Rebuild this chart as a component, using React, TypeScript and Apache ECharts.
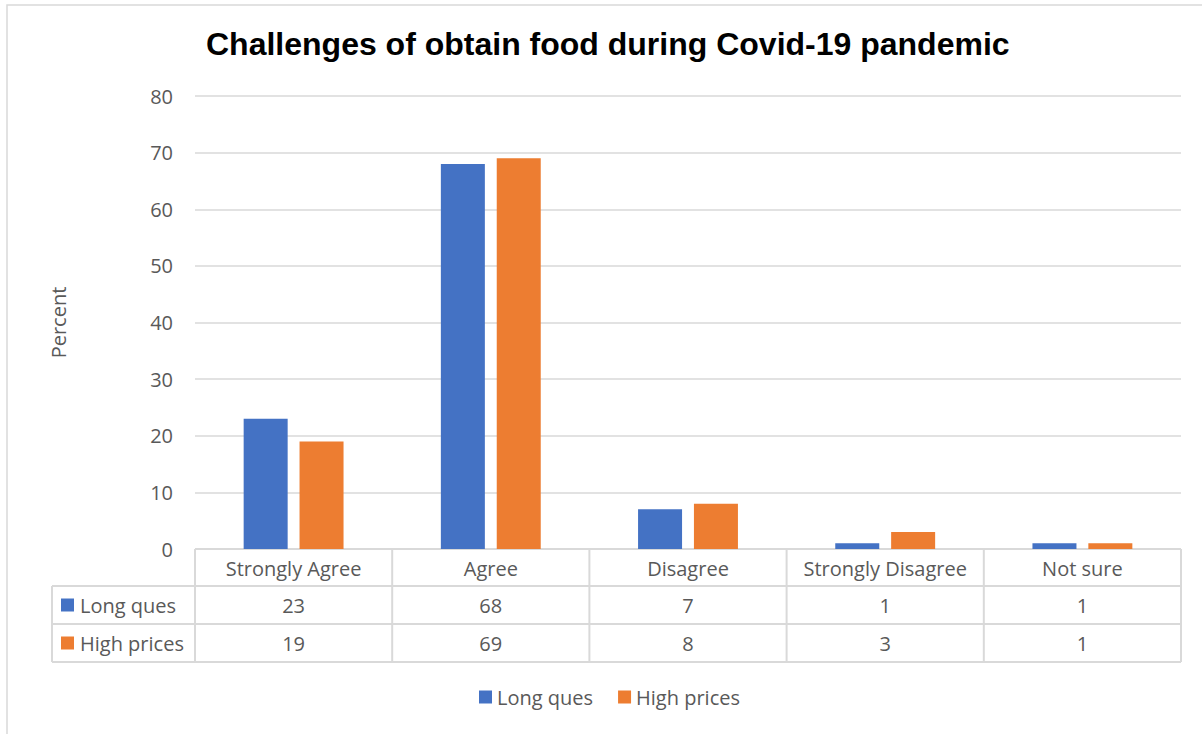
import React, { useEffect, useRef } from "react";
import * as echarts from "echarts";

const categories = ["Strongly Agree", "Agree", "Disagree", "Strongly Disagree", "Not sure"];
const seriesNames = ["Long ques", "High prices"];
const longQues = [23, 68, 7, 1, 1];
const highPrices = [19, 69, 8, 3, 1];
const colors = ["#4472C4", "#ED7D31"];
const titleText = "Challenges of obtain food during Covid-19 pandemic";
const yAxisName = "Percent";

export default function App() {
  const ref = useRef<HTMLDivElement>(null);
  useEffect(() => {
    if (!ref.current) return;
    const chart = echarts.init(ref.current, null, { renderer: "svg" });
    const font = "'Open Sans', sans-serif";
    const fs = 20;
    const textColor = "#595959";
    const lineColor = "#d9d9d9";
    const gl = 195, gr = 1181, gt = 96, gb = 549;
    const colW = (gr - gl) / categories.length;
    const rowYs = [549, 586, 624, 662];
    const rowLeft = 52;
    const graphics: any[] = [];
    graphics.push({ type: "rect", shape: { x: 7, y: 5, width: 1210, height: 760 }, style: { fill: "none", stroke: lineColor, lineWidth: 1.5 }, silent: true });
    graphics.push({ type: "line", shape: { x1: gl, y1: rowYs[0], x2: gr, y2: rowYs[0] }, style: { stroke: lineColor, lineWidth: 2 } });
    for (let r = 1; r < rowYs.length; r++) {
      graphics.push({ type: "line", shape: { x1: rowLeft, y1: rowYs[r], x2: gr, y2: rowYs[r] }, style: { stroke: lineColor, lineWidth: 2 } });
    }
    graphics.push({ type: "line", shape: { x1: rowLeft, y1: rowYs[1], x2: rowLeft, y2: rowYs[3] }, style: { stroke: lineColor, lineWidth: 2 } });
    for (let c = 0; c <= categories.length; c++) {
      const x = gl + c * colW;
      graphics.push({ type: "line", shape: { x1: x, y1: rowYs[0], x2: x, y2: rowYs[3] }, style: { stroke: lineColor, lineWidth: 2 } });
    }
    const rows = [longQues, highPrices];
    rows.forEach((vals, r) => {
      const cy = (rowYs[r + 1] + rowYs[r + 2]) / 2;
      graphics.push({ type: "rect", shape: { x: 61, y: cy - 6.5, width: 13, height: 13 }, style: { fill: colors[r] } });
      graphics.push({ type: "text", x: 80, y: cy, style: { text: seriesNames[r], font: `${fs}px ${font}`, fill: textColor, verticalAlign: "middle", align: "left" } });
      vals.forEach((v, c) => {
        graphics.push({ type: "text", x: gl + (c + 0.5) * colW, y: cy, style: { text: String(v), font: `${fs}px ${font}`, fill: textColor, verticalAlign: "middle", align: "center" } });
      });
    });
    chart.setOption({
      animation: false,
      title: { text: titleText, left: 201, top: 23, textStyle: { fontFamily: "'Liberation Sans', Arial, sans-serif", fontWeight: "bold", fontSize: 32, color: "#000" } },
      grid: { left: gl, right: 1202 - gr, top: gt, bottom: 734 - gb, containLabel: false },
      legend: {
        data: seriesNames, bottom: 22, left: 474, icon: "rect", itemWidth: 13, itemHeight: 13, itemGap: 25,
        textStyle: { fontFamily: font, fontSize: fs, color: textColor },
      },
      xAxis: {
        type: "category", data: categories,
        axisLine: { show: false }, axisTick: { show: false },
        axisLabel: { fontFamily: font, fontSize: fs, color: textColor, margin: 9, interval: 0 },
      },
      yAxis: {
        type: "value", min: 0, max: 80, interval: 10,
        name: yAxisName, nameLocation: "middle", nameGap: 127, nameRotate: 90,
        nameTextStyle: { fontFamily: font, fontSize: fs, color: textColor },
        axisLabel: { fontFamily: font, fontSize: fs, color: textColor, margin: 22 },
        splitLine: { lineStyle: { color: lineColor, width: 1.5 } },
        axisLine: { show: false }, axisTick: { show: false },
      },
      series: [
        { name: seriesNames[0], type: "bar", data: longQues, barWidth: 44, barGap: "27%", itemStyle: { color: colors[0] } },
        { name: seriesNames[1], type: "bar", data: highPrices, barWidth: 44, barGap: "27%", itemStyle: { color: colors[1] } },
      ],
      graphic: graphics,
    });
    return () => chart.dispose();
  }, []);
  return <div ref={ref} style={{ position: "fixed", left: 0, top: 0, width: 1202, height: 734, background: "#fff" }} />;
}
